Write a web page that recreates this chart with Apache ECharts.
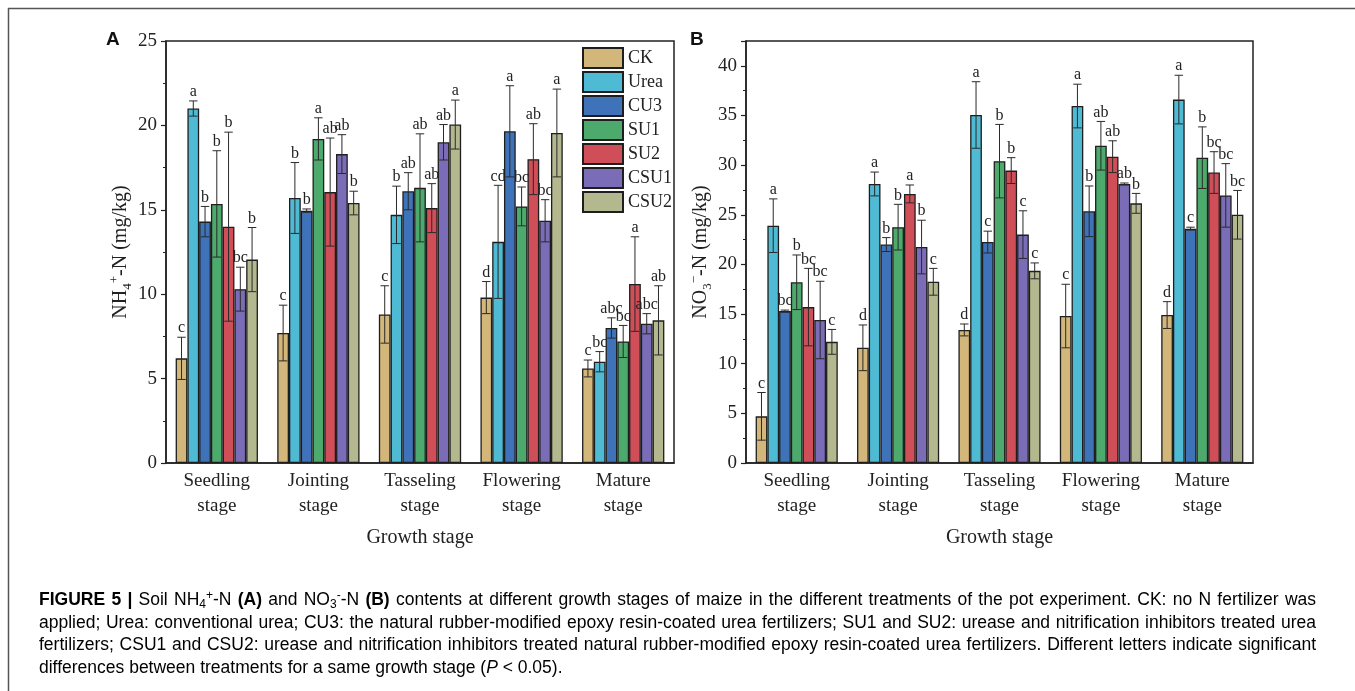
<!DOCTYPE html>
<html><head><meta charset="utf-8">
<script src="https://cdn.jsdelivr.net/npm/echarts@6/dist/echarts.min.js"></script>
<style>html,body{margin:0;padding:0;background:#fff}#c{width:1355px;height:691px}</style>
</head><body><div id="c"></div>
<script>
const stages = ['Seedling\nstage','Jointing\nstage','Tasseling\nstage','Flowering\nstage','Mature\nstage'];
const treatments = ['CK','Urea','CU3','SU1','SU2','CSU1','CSU2'];

// rows: CK, Urea, CU3, SU1, SU2, CSU1, CSU2 ; columns: stages
const nh4Mean = [
 [6.2, 7.7, 8.8, 9.8, 5.6],
 [21.0, 15.7, 14.7, 13.1, 6.0],
 [14.3, 14.95, 16.1, 19.65, 8.0],
 [15.35, 19.2, 16.3, 15.2, 7.2],
 [14.0, 16.05, 15.1, 18.0, 10.6],
 [10.3, 18.3, 19.0, 14.35, 8.25],
 [12.05, 15.4, 20.05, 19.55, 8.45]
];
const nh4Err = [
 [1.25, 1.65, 1.7, 0.95, 0.5],
 [0.45, 2.1, 1.7, 3.35, 0.6],
 [0.9, 0.1, 1.1, 2.7, 0.6],
 [3.15, 1.25, 3.2, 1.15, 0.95],
 [5.6, 3.2, 1.45, 2.1, 2.8],
 [1.3, 1.15, 1.05, 1.25, 0.6],
 [1.9, 0.7, 1.45, 2.6, 2.05]
];
const nh4Letters = [
 ['c','c','c','d','c'],
 ['a','b','b','cd','bc'],
 ['b','b','ab','a','abc'],
 ['b','a','ab','bc','bc'],
 ['b','ab','ab','ab','a'],
 ['bc','ab','ab','bc','abc'],
 ['b','b','a','a','ab']
];
const no3Mean = [
 [4.7, 11.6, 13.4, 14.8, 14.9],
 [23.9, 28.1, 35.05, 35.95, 36.6],
 [15.3, 22.0, 22.25, 25.35, 23.6],
 [18.2, 23.75, 30.4, 31.95, 30.75],
 [15.7, 27.1, 29.45, 30.85, 29.25],
 [14.4, 21.75, 23.0, 28.1, 26.95],
 [12.2, 18.25, 19.35, 26.15, 25.0]
];
const no3Err = [
 [2.4, 2.3, 0.6, 3.2, 1.35],
 [2.7, 1.2, 3.35, 2.2, 2.45],
 [0.1, 0.7, 1.1, 2.55, 0.15],
 [2.75, 2.3, 3.7, 2.45, 3.1],
 [3.9, 0.9, 1.3, 1.6, 2.1],
 [3.9, 2.7, 2.4, 0.1, 3.2],
 [1.25, 1.35, 0.8, 1.0, 2.45]
];
const no3Letters = [
 ['c','d','d','c','d'],
 ['a','a','a','a','a'],
 ['bc','b','c','b','c'],
 ['b','b','b','ab','b'],
 ['bc','a','b','ab','bc'],
 ['bc','b','c','ab','bc'],
 ['c','c','c','b','bc']
];
const nh4Ticks = {min: 0, max: 25, interval: 5};
const no3Ticks = {min: 0, max: 42.5, interval: 5};

// caption lines as [style, text] segments
const captionLines = [
  [['b','FIGURE 5 | '],['n','Soil NH'],['sub','4'],['sup','+'],['n','-N '],['b','(A)'],['n',' and NO'],['sub','3'],['sup','-'],['n','-N '],['b','(B)'],['n',' contents at different growth stages of maize in the different treatments of the pot experiment. CK: no N fertilizer was']],
  [['n','applied; Urea: conventional urea; CU3: the natural rubber-modified epoxy resin-coated urea fertilizers; SU1 and SU2: urease and nitrification inhibitors treated urea']],
  [['n','fertilizers; CSU1 and CSU2: urease and nitrification inhibitors treated natural rubber-modified epoxy resin-coated urea fertilizers. Different letters indicate significant']],
  [['n','differences between treatments for a same growth stage ('],['i','P'],['n',' < 0.05).']]
];

const colors = ['#d3b679','#4fbad4','#3f73b9','#4caa6d','#cf4e57','#7b6cb7','#b4b88f'];
const SERIF = '"Liberation Serif", "DejaVu Serif", serif';
const SANS = '"Liberation Sans", Arial, sans-serif';
const CAT_GAP = 0.19;

function makeRender(letters) {
  return function (params, api) {
    const c = api.value(0), m = api.value(1), e = api.value(2), s = api.value(3);
    const band = api.size([1, 0])[0];
    const occ = band * (1 - CAT_GAP);
    const bw = occ / treatments.length;
    const cx = api.coord([c, m])[0] - occ / 2 + (s + 0.5) * bw;
    const yTop = api.coord([c, m + e])[1];
    const yBot = api.coord([c, m - e])[1];
    const ch = bw * 0.36;
    const ls = {stroke: '#2a2a2a', lineWidth: 1};
    return {type: 'group', children: [
      {type: 'line', shape: {x1: cx, y1: yTop, x2: cx, y2: yBot}, style: ls},
      {type: 'line', shape: {x1: cx - ch, y1: yTop, x2: cx + ch, y2: yTop}, style: ls},
      {type: 'line', shape: {x1: cx - ch, y1: yBot, x2: cx + ch, y2: yBot}, style: ls},
      {type: 'text', x: cx, y: yTop - 1, style: {text: letters[s][c], fill: '#222', font: '16px ' + SERIF, align: 'center', verticalAlign: 'bottom'}}
    ]};
  };
}

function errData(mean, err) {
  const out = [];
  for (let s = 0; s < treatments.length; s++)
    for (let c = 0; c < stages.length; c++) out.push([c, mean[s][c], err[s][c], s]);
  return out;
}

const grids = [
  {left: 166, top: 41, width: 508, height: 422},
  {left: 746, top: 41, width: 507, height: 422}
];

const xAxes = [];
const yAxes = [];
[0, 1].forEach(function (p) {
  xAxes.push({
    type: 'category', gridIndex: p, data: stages,
    axisLine: {lineStyle: {color: '#222', width: 1.5}},
    axisTick: {inside: true, alignWithLabel: true, length: 5, lineStyle: {color: '#222', width: 1.5}},
    axisLabel: {interval: 0, fontFamily: SERIF, fontSize: 19, color: '#222', lineHeight: 25, margin: 6},
    name: 'Growth stage', nameLocation: 'middle', nameGap: 65,
    nameTextStyle: {fontFamily: SERIF, fontSize: 20, color: '#222'}
  });
  xAxes.push({
    type: 'category', gridIndex: p, data: stages, position: 'bottom',
    axisLine: {show: false}, axisLabel: {show: false},
    axisTick: {inside: true, length: 3, lineStyle: {color: '#222', width: 1.5}}
  });
  const t = p === 0 ? nh4Ticks : no3Ticks;
  const nm = p === 0 ? '{t|NH}{sub|4}{sup|+}{t|-N (mg/kg)}' : '{t|NO}{sub|3}{sup|−}{t|-N (mg/kg)}';
  yAxes.push({
    type: 'value', gridIndex: p, min: t.min, max: t.max, interval: t.interval,
    splitLine: {show: false},
    axisLine: {show: true, lineStyle: {color: '#222', width: 1.5}},
    axisTick: {show: true, length: 5, lineStyle: {color: '#222', width: 1.2}},
    minorTick: {show: true, splitNumber: 2, length: 3, lineStyle: {color: '#222', width: 1}},
    axisLabel: {fontFamily: SERIF, fontSize: 19, color: '#222', margin: 9, showMaxLabel: p === 0},
    name: nm, nameLocation: 'middle', nameRotate: 90, nameGap: 25,
    nameTextStyle: {fontFamily: SERIF, fontSize: 20, color: '#222', rich: {
      t: {fontFamily: SERIF, fontSize: 20, color: '#222', lineHeight: 26},
      sub: {fontFamily: SERIF, fontSize: 13, color: '#222', verticalAlign: 'bottom', lineHeight: 13},
      sup: {fontFamily: SERIF, fontSize: 13, color: '#222', verticalAlign: 'top', lineHeight: 13}
    }}
  });
});

const series = [];
[[nh4Mean, nh4Err, nh4Letters], [no3Mean, no3Err, no3Letters]].forEach(function (set, p) {
  treatments.forEach(function (name, s) {
    series.push({
      type: 'bar', name: name, xAxisIndex: p * 2, yAxisIndex: p, data: set[0][s],
      barGap: '0%', barCategoryGap: (CAT_GAP * 100) + '%',
      itemStyle: {color: colors[s], borderColor: '#1e1e1e', borderWidth: 1.3},
      emphasis: {disabled: true}
    });
  });
  series.push({
    type: 'custom', xAxisIndex: p * 2, yAxisIndex: p, z: 5, clip: false,
    renderItem: makeRender(set[2]), data: errData(set[0], set[1]),
    encode: {x: 0, y: 1}, silent: true
  });
});

const CAP_FS = 17.5;
const capRich = {
  b: {fontFamily: SANS, fontSize: CAP_FS, fontWeight: 'bold', color: '#111', lineHeight: 21},
  n: {fontFamily: SANS, fontSize: CAP_FS, color: '#333', lineHeight: 21},
  i: {fontFamily: SANS, fontSize: CAP_FS, fontStyle: 'italic', color: '#333', lineHeight: 21},
  sub: {fontFamily: SANS, fontSize: 12, color: '#333', verticalAlign: 'bottom', lineHeight: 12},
  sup: {fontFamily: SANS, fontSize: 12, color: '#333', verticalAlign: 'top', lineHeight: 12}
};
function toWords(segs) {
  const words = [];
  let cur = [];
  segs.forEach(function (sg) {
    let buf = '';
    for (const ch of sg[1]) {
      if (ch === ' ') {
        if (buf) cur.push([sg[0], buf]);
        buf = '';
        if (cur.length) words.push(cur);
        cur = [];
      } else buf += ch;
    }
    if (buf) cur.push([sg[0], buf]);
  });
  if (cur.length) words.push(cur);
  return words.map(function (w) { return w.map(function (p) { return '{' + p[0] + '|' + p[1] + '}'; }).join(''); });
}
function measure(str) {
  const t = new echarts.graphic.Text({style: {text: str, rich: capRich}});
  return t.getBoundingRect().width;
}
const CAP_X0 = 39, CAP_X1 = 1316;
const spaceW = measure('{n|a a}') - measure('{n|aa}');
const graphics = [
  {type: 'line', shape: {x1: 8, y1: 8.5, x2: 1355, y2: 8.5}, style: {stroke: '#555', lineWidth: 1.5}},
  {type: 'line', shape: {x1: 8.5, y1: 8, x2: 8.5, y2: 691}, style: {stroke: '#555', lineWidth: 1.5}},
  {type: 'text', x: 106, y: 40, style: {text: 'A', font: 'bold 19px ' + SANS, fill: '#111', verticalAlign: 'middle'}},
  {type: 'text', x: 690, y: 40, style: {text: 'B', font: 'bold 19px ' + SANS, fill: '#111', verticalAlign: 'middle'}}
];
captionLines.forEach(function (segs, li) {
  const words = toWords(segs);
  const widths = words.map(measure);
  const total = widths.reduce(function (a, b) { return a + b; }, 0);
  const last = li === captionLines.length - 1;
  const gap = last ? spaceW : (CAP_X1 - CAP_X0 - total) / (words.length - 1);
  let x = CAP_X0;
  words.forEach(function (w, wi) {
    graphics.push({type: 'text', x: x, y: 600 + li * 22.7, style: {text: w, rich: capRich, verticalAlign: 'middle'}});
    x += widths[wi] + gap;
  });
});

const chart = echarts.init(document.getElementById('c'), null, {renderer: 'canvas'});
chart.setOption({
  animation: false,
  backgroundColor: '#fff',
  grid: grids.map(function (g) { return Object.assign({show: true, borderColor: '#222', borderWidth: 1.5, backgroundColor: 'transparent'}, g); }),
  legend: {
    data: treatments, orient: 'vertical', left: 582, top: 47, padding: 0, icon: 'rect',
    itemWidth: 40, itemHeight: 20, itemGap: 2,
    textStyle: {fontFamily: SERIF, fontSize: 18, color: '#222', lineHeight: 20}, selectedMode: false
  },
  xAxis: xAxes,
  yAxis: yAxes,
  series: series,
  graphic: graphics
});
</script>
</body></html>
